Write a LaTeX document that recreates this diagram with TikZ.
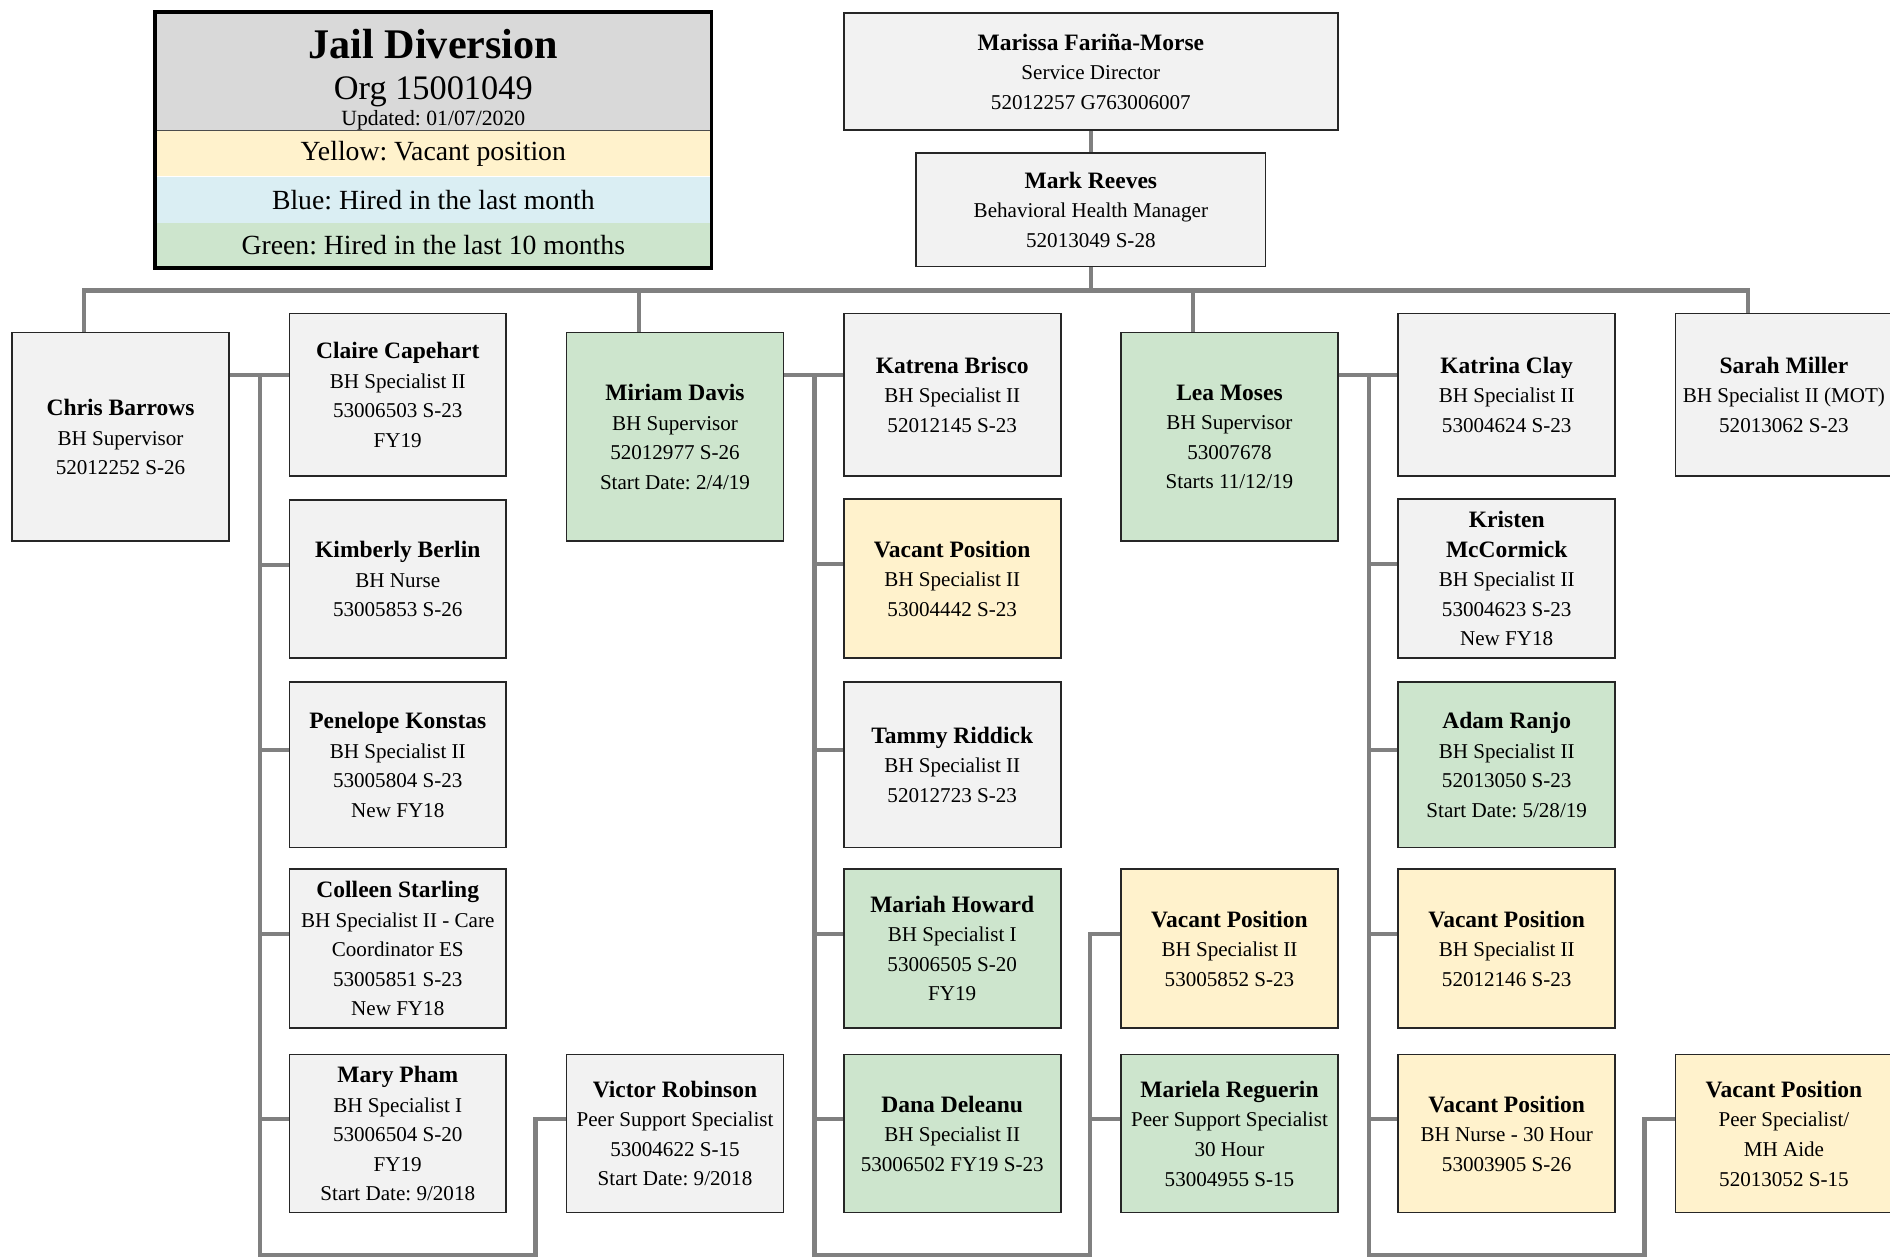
\documentclass[tikz,border=0pt]{standalone}
\usepackage{fontspec}
\setmainfont{Liberation Serif}
\usetikzlibrary{positioning}
\frenchspacing
\definecolor{boxgray}{RGB}{242,242,242}
\definecolor{vacant}{RGB}{255,242,204}
\definecolor{hired}{RGB}{205,229,205}
\definecolor{newhire}{RGB}{218,238,243}
\definecolor{headgray}{RGB}{217,217,217}
\definecolor{linegray}{RGB}{128,128,128}
\newcommand{\who}[1]{{\fontsize{19.5}{24.5}\selectfont\bfseries #1}}
\begin{document}
\begin{tikzpicture}
	[x=1pt,y=-1pt,
	 box/.style={rectangle,draw=black!85,line width=1.3pt,fill=boxgray,minimum width=180pt,inner sep=1pt,align=center,font=\fontsize{17.5}{24.5}\selectfont},
	 vacbox/.style={box,fill=vacant},
	 hiredbox/.style={box,fill=hired},
	 conn/.style={draw=linegray,line width=3.5pt},
	 lgrow/.style={rectangle,minimum width=461pt,minimum height=38pt,inner sep=0pt,font=\fontsize{23}{26}\selectfont}]
	\useasboundingbox (0,0) rectangle (1568,1044);
	% legend
	\node[rectangle,fill=headgray,minimum width=461pt,minimum height=98pt,inner sep=0pt] (lghead) at (359.5,59) {};
	\node[lgrow,fill=vacant,below=0pt of lghead] (lgvacant) {\raisebox{-2pt}{Yellow: Vacant position}};
	\node[lgrow,fill=newhire,below=0pt of lgvacant] (lgnew) {Blue: Hired in the last month};
	\node[lgrow,fill=hired,minimum height=37pt,below=0pt of lgnew] (lghired) {Green: Hired in the last 10 months};
	\node[align=center,inner sep=0pt,anchor=north,font=\fontsize{18}{22}\selectfont] (lgtitle) at (359.5,24)
		{{\fontsize{35}{36}\selectfont\bfseries Jail Diversion}\\[12pt]{\fontsize{28.5}{30}\selectfont Org 15001049}\\Updated: 01/07/2020};
	\draw[line width=1pt,black!70] (lghead.south west) -- (lghead.south east);
	\draw[line width=3pt] (lghead.north west) rectangle (lghired.south east);
	% top
	\node[box,minimum width=410pt,minimum height=97pt] (marissa) at (905,59.5) {\who{Marissa Fariña-Morse}\\Service Director\\52012257 G763006007};
	\node[box,minimum width=290pt,minimum height=94pt] (mark) at (905,174) {\who{Mark Reeves}\\Behavioral Health Manager\\52013049 S-28};
	% supervisors
	\node[box,minimum height=173pt] (chris) at (100,362.5) {\who{Chris Barrows}\\BH Supervisor\\52012252 S-26};
	\node[hiredbox,minimum height=173pt] (miriam) at (560,362.5) {\who{Miriam Davis}\\BH Supervisor\\52012977 S-26\\Start Date: 2/4/19};
	\node[hiredbox,minimum height=173pt] (lea) at (1020,362.5) {\who{Lea Moses}\\BH Supervisor\\53007678\\Starts 11/12/19};
	\node[box,minimum height=135pt] (sarah) at (1480,327.5) {\who{Sarah Miller}\\BH Specialist II (MOT)\\52013062 S-23};
	% Chris Barrows team
	\node[box,minimum height=135pt] (claire) at (330,327.5) {\who{Claire Capehart}\\BH Specialist II\\53006503 S-23\\FY19};
	\node[box,minimum height=131pt] (kim) at (330,480.5) {\who{Kimberly Berlin}\\BH Nurse\\53005853 S-26};
	\node[box,minimum height=137pt] (pen) at (330,634.5) {\who{Penelope Konstas}\\BH Specialist II\\53005804 S-23\\New FY18};
	\node[box,minimum height=132pt] (col) at (330,787) {\who{Colleen Starling}\\BH Specialist II - Care\\Coordinator ES\\53005851 S-23\\New FY18};
	\node[box,minimum height=131pt] (mary) at (330,940.5) {\who{Mary Pham}\\BH Specialist I\\53006504 S-20\\FY19\\Start Date: 9/2018};
	\node[box,minimum height=131pt] (victor) at (560,940.5) {\who{Victor Robinson}\\Peer Support Specialist\\53004622 S-15\\Start Date: 9/2018};
	% Miriam Davis team
	\node[box,minimum height=135pt] (katrena) at (790,327.5) {\who{Katrena Brisco}\\BH Specialist II\\52012145 S-23};
	\node[vacbox,minimum height=132pt] (vac1) at (790,480) {\who{Vacant Position}\\BH Specialist II\\53004442 S-23};
	\node[box,minimum height=137pt] (tammy) at (790,634.5) {\who{Tammy Riddick}\\BH Specialist II\\52012723 S-23};
	\node[hiredbox,minimum height=132pt] (mariah) at (790,787) {\who{Mariah Howard}\\BH Specialist I\\53006505 S-20\\FY19};
	\node[hiredbox,minimum height=131pt] (dana) at (790,940.5) {\who{Dana Deleanu}\\BH Specialist II\\53006502 FY19 S-23};
	\node[vacbox,minimum height=132pt] (vac2) at (1020,787) {\who{Vacant Position}\\BH Specialist II\\53005852 S-23};
	\node[hiredbox,minimum height=131pt] (mariela) at (1020,940.5) {\who{Mariela Reguerin}\\Peer Support Specialist\\30 Hour\\53004955 S-15};
	% Lea Moses team
	\node[box,minimum height=135pt] (katrina) at (1250,327.5) {\who{Katrina Clay}\\BH Specialist II\\53004624 S-23};
	\node[box,minimum height=132pt] (kristen) at (1250,480) {\who{Kristen}\\\who{McCormick}\\BH Specialist II\\53004623 S-23\\New FY18};
	\node[hiredbox,minimum height=137pt] (adam) at (1250,634.5) {\who{Adam Ranjo}\\BH Specialist II\\52013050 S-23\\Start Date: 5/28/19};
	\node[vacbox,minimum height=132pt] (vac3) at (1250,787) {\who{Vacant Position}\\BH Specialist II\\52012146 S-23};
	\node[vacbox,minimum height=131pt] (vac4) at (1250,940.5) {\who{Vacant Position}\\BH Nurse - 30 Hour\\53003905 S-26};
	\node[vacbox,minimum height=131pt] (vac5) at (1480,940.5) {\who{Vacant Position}\\Peer Specialist/\\MH Aide\\52013052 S-15};
	% connectors
	\coordinate (bus) at (905,241);
	\draw[conn] (marissa) -- (mark);
	\draw[conn] (mark) -- (bus);
	\draw[conn] ([xshift=-30pt]chris.north) |- (bus) -| ([xshift=-30pt]sarah.north);
	\draw[conn] ([xshift=-30pt]miriam.north) -- ([xshift=-30pt]miriam.north |- bus);
	\draw[conn] ([xshift=-30pt]lea.north) -- ([xshift=-30pt]lea.north |- bus);
	\draw[conn] ([yshift=-36pt]chris.north east) -- ([yshift=-52pt]claire.north west);
	\draw[conn] ([xshift=25pt,yshift=-36pt]chris.north east) -- ++(0,730) -| ([xshift=-25pt,yshift=12pt]victor.west) -- ([yshift=12pt]victor.west);
	\foreach \n in {kim,pen,col,mary} \draw[conn] ([yshift=12pt]\n.west) -- ++(-25,0);
	\draw[conn] ([yshift=-36pt]miriam.north east) -- ([yshift=-52pt]katrena.north west);
	\draw[conn] ([xshift=25pt,yshift=-36pt]miriam.north east) -- ++(0,730) -| ([xshift=-25pt,yshift=12pt]vac2.west) -- ([yshift=12pt]vac2.west);
	\foreach \n in {vac1,tammy,mariah,dana,mariela} \draw[conn] ([yshift=12pt]\n.west) -- ++(-25,0);
	\draw[conn] ([yshift=-36pt]lea.north east) -- ([yshift=-52pt]katrina.north west);
	\draw[conn] ([xshift=25pt,yshift=-36pt]lea.north east) -- ++(0,730) -| ([xshift=-25pt,yshift=12pt]vac5.west) -- ([yshift=12pt]vac5.west);
	\foreach \n in {kristen,adam,vac3,vac4} \draw[conn] ([yshift=12pt]\n.west) -- ++(-25,0);
\end{tikzpicture}
\end{document}
